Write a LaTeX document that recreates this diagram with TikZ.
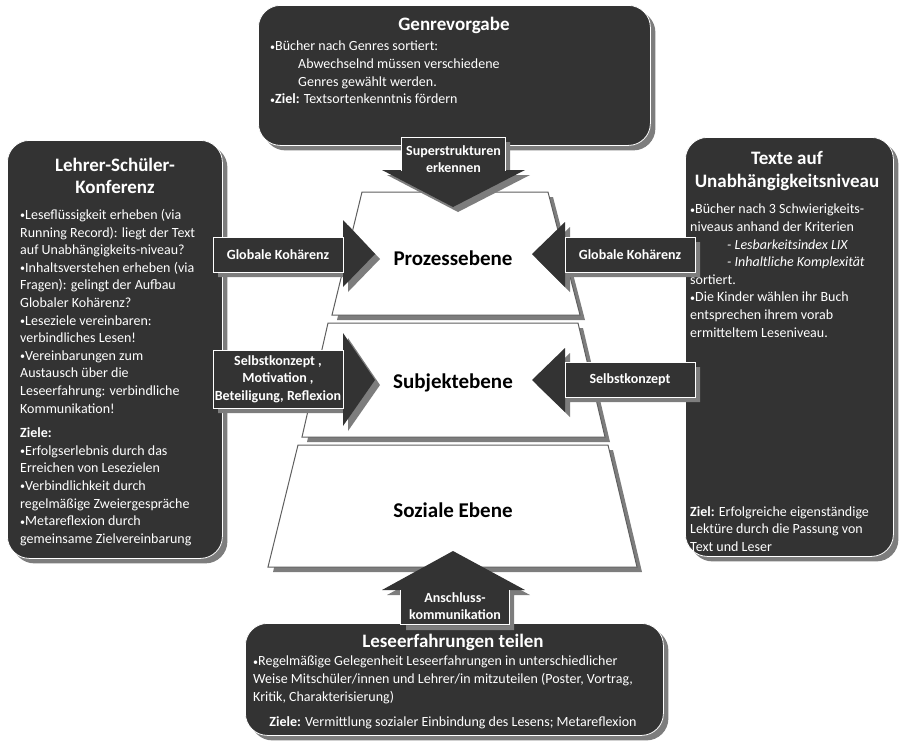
\documentclass[tikz,border=0pt]{standalone}
\usepackage{fontspec}
\setmainfont{Carlito}
\usepackage{xcolor}
\usepackage{tikz}
\usetikzlibrary{shadows, calc}
\definecolor{panelDark}{RGB}{51,51,51}
\definecolor{shadowGray}{RGB}{125,125,125}
\definecolor{levelEdge}{RGB}{95,95,95}
\newcommand{\bulletmark}{\raisebox{0.6pt}{\fontsize{10}{10}\selectfont•}}

\begin{document}
\begin{tikzpicture}[x=1pt, y=-1pt,
    grayshadow/.style={drop shadow={shadow xshift=5pt, shadow yshift=-5pt, fill=shadowGray, opacity=1}},
    panel/.style={rectangle, rounded corners=22pt, fill=panelDark, draw=white, line width=0.8pt, grayshadow, inner sep=0pt, anchor=north west},
    level/.style={fill=white, draw=levelEdge, line width=1pt, grayshadow},
    level text/.style={font=\bfseries\fontsize{21}{25}\selectfont},
    block/.style={fill=panelDark, grayshadow},
    block label/.style={rectangle, inner sep=0pt, text=white, align=center, font=\bfseries\fontsize{14}{17.5}\selectfont},
    title/.style={text=white, align=center, font=\bfseries\fontsize{19}{22}\selectfont},
    body/.style={text=white, align=left, anchor=north west, inner sep=0pt, font=\fontsize{14}{17.6}\selectfont}
]
    \useasboundingbox (0,0) rectangle (900,740);

    % the four panels
    \node[panel, minimum width=392pt, minimum height=140pt] (genre) at (258,5) {};
    \node[panel, minimum width=215pt, minimum height=418pt] (konferenz) at (7,140) {};
    \node[panel, minimum width=208pt, minimum height=419pt] (niveau) at (685,137) {};
    \node[panel, minimum width=418pt, minimum height=112pt] (teilen) at (245,623) {};

    \node[title] (genreTitle) at (454,25) {Genrevorgabe};
    \node[body] (genreText) at (270,41) {%
        \bulletmark Bücher nach Genres sortiert:\\
        \hspace*{28pt}Abwechselnd müssen verschiedene\\
        \hspace*{28pt}Genres gewählt werden.\\
        \bulletmark\textbf{Ziel:} Textsortenkenntnis fördern};

    \node[title] (konferenzTitle) at (115,176) {Lehrer-Schüler-\\Konferenz};
    \node[body] (konferenzText) at (20,209) {%
        \bulletmark Leseflüssigkeit erheben (via\\
        Running Record): liegt der Text\\
        auf Unabhängigkeits-niveau?\\
        \bulletmark Inhaltsverstehen erheben (via\\
        Fragen): gelingt der Aufbau\\
        Globaler Kohärenz?\\
        \bulletmark Leseziele vereinbaren:\\
        verbindliches Lesen!\\
        \bulletmark Vereinbarungen zum\\
        Austausch über die\\
        Leseerfahrung: verbindliche\\
        Kommunikation!\\[7pt]
        \textbf{Ziele:}\\
        \bulletmark Erfolgserlebnis durch das\\
        Erreichen von Lesezielen\\
        \bulletmark Verbindlichkeit durch\\
        regelmäßige Zweiergespräche\\
        \bulletmark Metareflexion durch\\
        gemeinsame Zielvereinbarung};

    \node[title, font=\bfseries\fontsize{19}{23}\selectfont] (niveauTitle) at (787,171) {Texte auf\\Unabhängigkeitsniveau};
    \node[body] (niveauText) at (690,204) {%
        \bulletmark Bücher nach 3 Schwierigkeits-\\
        niveaus anhand der Kriterien\\
        \hspace*{37pt}\textit{- Lesbarkeitsindex LIX}\\
        \hspace*{37pt}\textit{- Inhaltliche Komplexität}\\
        sortiert.\\
        \bulletmark Die Kinder wählen ihr Buch\\
        entsprechen ihrem vorab\\
        ermitteltem Leseniveau.};
    \node[body] (niveauZiel) at (690,506) {%
        \textbf{Ziel:} Erfolgreiche eigenständige\\
        Lektüre durch die Passung von\\
        Text und Leser};

    \node[title] (teilenTitle) at (453,642) {Leseerfahrungen teilen};
    \node[body, font=\fontsize{14}{18}\selectfont] (teilenText) at (253,656) {%
        \bulletmark Regelmäßige Gelegenheit Leseerfahrungen in unterschiedlicher\\
        Weise Mitschüler/innen und Lehrer/in mitzuteilen (Poster, Vortrag,\\
        Kritik, Charakterisierung)};
    \node[body, anchor=center] (teilenZiel) at (453,723) {\textbf{Ziele:} Vermittlung sozialer Einbindung des Lesens; Metareflexion};

    % pyramid levels
    \draw[level] (362,192) -- (548,192) -- (580,315) -- (332,315) -- cycle;
    \draw[level] (328,323) -- (578,323) -- (605,437) -- (302,437) -- cycle;
    \draw[level] (298,445) -- (608,445) -- (637,567) -- (268,567) -- cycle;
    \node[level text] (prozess) at (453,258) {Prozessebene};
    \node[level text] (subjekt) at (453,383) {Subjektebene};
    \node[level text] (sozial) at (453,510) {Soziale Ebene};

    % block arrows
    \fill[block] (213,237) -- (343,237) -- (343,220) -- (375,254) -- (343,287) -- (343,272) -- (213,272) -- cycle;
    \fill[block] (695,237) -- (565,237) -- (565,222) -- (532,254) -- (565,287) -- (565,272) -- (695,272) -- cycle;
    \fill[block] (213,350) -- (343,350) -- (343,333) -- (375,380) -- (343,426) -- (343,408) -- (213,408) -- cycle;
    \fill[block] (695,362) -- (565,362) -- (565,348) -- (532,380) -- (565,412) -- (565,397) -- (695,397) -- cycle;
    \fill[block] (402,137) -- (505,137) -- (505,170) -- (525,170) -- (453,207) -- (382,170) -- (402,170) -- cycle;
    \fill[block] (401,625) -- (401,590) -- (382,590) -- (453,551) -- (525,590) -- (509,590) -- (509,625) -- cycle;

    \node[block label, draw=white, minimum width=130pt, minimum height=35pt] (kohaerenzL) at (278,254.5) {Globale Kohärenz};
    \node[block label, draw=white, minimum width=130pt, minimum height=35pt] (kohaerenzR) at (630,254.5) {Globale Kohärenz};
    \node[block label, draw=white, minimum width=130pt, minimum height=58pt] (selbstL) at (278,379) {Selbstkonzept ,\\Motivation ,\\Beteiligung, Reflexion};
    \node[block label, draw=white, minimum width=130pt, minimum height=35pt] (selbstR) at (630,379.5) {Selbstkonzept};
    \node[block label, minimum width=103pt, minimum height=43pt] (superstruktur) at (453.5,159) {Superstrukturen\\erkennen};
    \node[block label, minimum width=108pt, minimum height=37pt] (anschluss) at (455,606) {Anschluss-\\kommunikation};
    \draw[white, line width=0.8pt] (superstruktur.west |- 0,171) -- (superstruktur.north west) -- (superstruktur.north east) -- (superstruktur.east |- 0,171);
    \draw[white, line width=0.8pt] (anschluss.west |- 0,590) -- (anschluss.south west) -- (anschluss.south east) -- (anschluss.east |- 0,590);
\end{tikzpicture}
\end{document}
